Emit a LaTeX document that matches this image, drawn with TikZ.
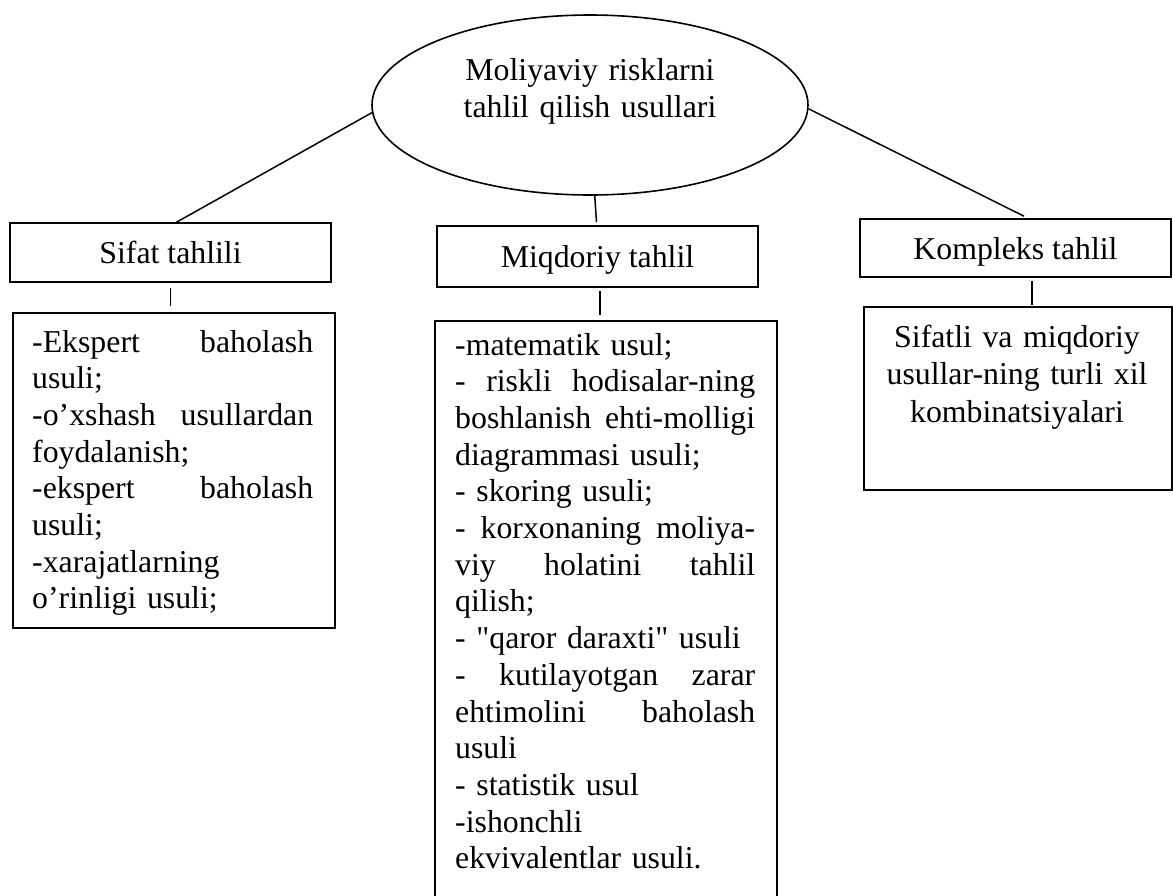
\documentclass[tikz,border=0pt]{standalone}
\usepackage{fontspec}
\setmainfont{Liberation Serif}[Ligatures=TeXOff]
\usetikzlibrary{shapes.geometric}
\newcommand{\jst}[2]{\leavevmode\hbox to #1{#2}}
\newcommand{\gp}{\hspace{0.25em plus 1fill}}
\begin{document}
\begin{tikzpicture}[x=1pt,y=-1pt,
  every node/.style={font=\fontsize{31.8pt}{36.7pt}\selectfont},
  conn/.style={line width=1.5pt},
  hdr/.style={draw, line width=1.6pt, rectangle, inner sep=0pt, text height=22pt, text depth=0pt},
  boxframe/.style={draw, line width=1.6pt, rectangle, inner sep=0pt, anchor=north west},
  bodytext/.style={inner sep=0pt, anchor=base west, align=left},
  ctext/.style={inner sep=0pt, anchor=base, align=center, text width=330pt, font=\fontsize{31.8pt}{37.5pt}\selectfont}]
\useasboundingbox (0,0) rectangle (1173,895);
\clip (0,0) rectangle (1173,895);
% root ellipse
\node[ellipse, draw, line width=1.6pt, minimum width=436pt, minimum height=180pt, inner sep=0pt] (root) at (590,105) {};
\node[ctext] (roottext) at (590,80) {Moliyaviy risklarni\\tahlil qilish usullari};
% header boxes
\node[hdr, minimum width=321pt, minimum height=59pt] (sifat) at (170.5,252.5) {Sifat tahlili};
\node[hdr, minimum width=321pt, minimum height=61pt] (miq) at (597.5,256.5) {Miqdoriy tahlil};
\node[hdr, minimum width=311pt, minimum height=58pt] (komp) at (1015.5,248) {Kompleks tahlil};
% content boxes
\node[boxframe, minimum width=322pt, minimum height=315pt] (leftbox) at (12,312) {};
\node[boxframe, minimum width=342pt, minimum height=620pt] (midbox) at (434,320) {};
\node[boxframe, minimum width=308pt, minimum height=183pt] (rightbox) at (863,306) {};
% texts
\node[bodytext, text width=281pt] (lefttext) at (32,352) {%
\jst{281pt}{-Ekspert\gp baholash}\\
usuli;\\
\jst{281pt}{-o’xshash\gp usullardan}\\
foydalanish;\\
\jst{281pt}{-ekspert\gp baholash}\\
usuli;\\
-xarajatlarning\\
o’rinligi usuli;};
\node[bodytext, text width=300pt] (midtext) at (455,355) {%
-matematik usul;\\
\jst{300pt}{-\gp riskli\gp hodisalar-ning}\\
\jst{300pt}{boshlanish\gp ehti-molligi}\\
diagrammasi usuli;\\
- skoring usuli;\\
\jst{300pt}{-\gp korxonaning\gp moliya-}\\
\jst{300pt}{viy\gp holatini\gp tahlil}\\
qilish;\\
- "qaror daraxti" usuli\\
\jst{300pt}{-\gp kutilayotgan\gp zarar}\\
\jst{300pt}{ehtimolini\gp baholash}\\
usuli\\
- statistik usul\\
-ishonchli\\
ekvivalentlar usuli.};
\node[ctext] (righttext) at (1017,347) {Sifatli va miqdoriy\\usullar-ning turli xil\\kombinatsiyalari};
% connectors
\draw[conn] (root.182) -- ([xshift=6pt]sifat.north);
\draw[conn] (root.-87.5) -- ([xshift=-1pt,yshift=3pt]miq.north);
\draw[conn] (root.-1.3) -- ([xshift=8.5pt,yshift=2pt]komp.north);
\draw[conn, shorten <=5pt, shorten >=6pt] (sifat.south) -- (sifat.south |- leftbox.north);
\draw[conn, shorten <=3pt, shorten >=5pt] ([xshift=2.5pt]miq.south) -- ([xshift=2.5pt]miq.south |- midbox.north);
\draw[conn, shorten <=3pt, shorten >=1pt] ([xshift=16.5pt]komp.south) -- ([xshift=16.5pt]komp.south |- rightbox.north);
\end{tikzpicture}
\end{document}
